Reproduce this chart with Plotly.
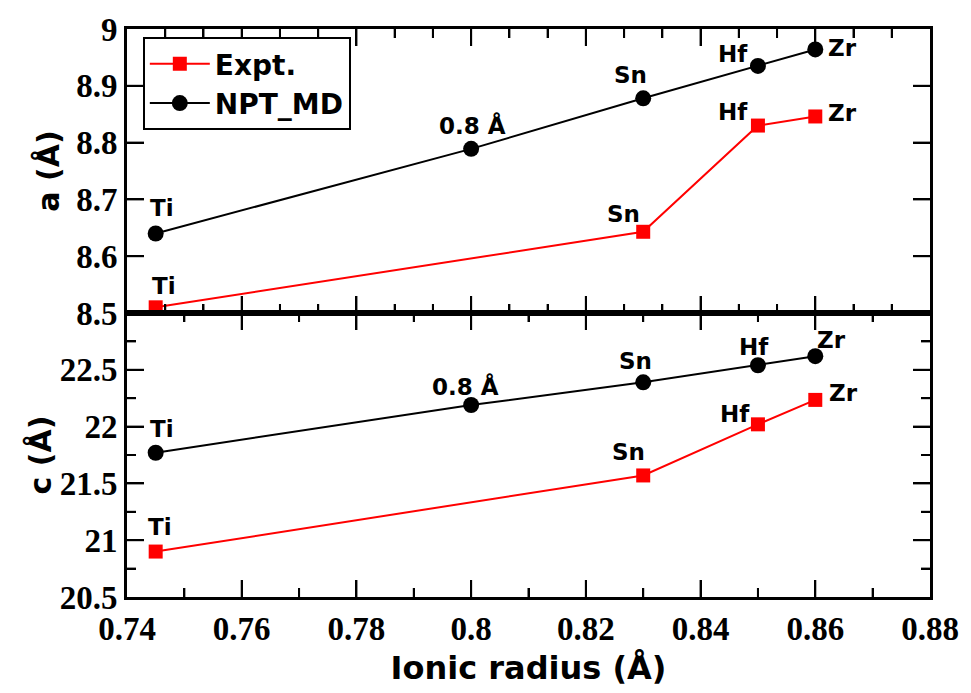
import numpy as np
import plotly.graph_objects as go
from plotly.subplots import make_subplots

# ---- data ----
radius = [0.745, 0.80, 0.83, 0.85, 0.86]
md_labels = ["Ti", "0.8 Å", "Sn", "Hf", "Zr"]
md_a = [8.640, 8.789, 8.878, 8.935, 8.964]
md_c = [21.77, 22.19, 22.39, 22.54, 22.62]

expt_radius = [0.745, 0.83, 0.85, 0.86]
expt_labels = ["Ti", "Sn", "Hf", "Zr"]
expt_a = [8.510, 8.643, 8.830, 8.846]
expt_c = [20.90, 21.57, 22.02, 22.235]

x_ticks = [0.74, 0.76, 0.78, 0.80, 0.82, 0.84, 0.86, 0.88]
a_ticks = [8.5, 8.6, 8.7, 8.8, 8.9, 9.0]
c_ticks = [20.5, 21.0, 21.5, 22.0, 22.5]

# minor tick positions (axis decoration)
x_minor_top = [v for i, v in enumerate(np.linspace(0.74, 0.88, 22)) if i % 3]
x_minor_bot = list(np.arange(0.75, 0.88, 0.02))
c_minor = list(np.arange(20.75, 23.0, 0.5))

# label placement (pixel offsets), styling only
md_a_off = [(6, 25), (1, 23), (-13, 23), (-25, 12), (27, 1)]
ex_a_off = [(8, 21), (-20, 18), (-25, 14), (27, 3)]
md_c_off = [(6, 24), (-6, 19), (-8, 21), (-4, 18), (16, 16)]
ex_c_off = [(4, 25), (-15, 23), (-23, 10), (28, 7)]

RED = "#ff0000"
BLK = "#000000"
TICKFONT = dict(family="Liberation Serif, Times New Roman, serif", size=33, color="black")
LBLFONT = dict(family="DejaVu Sans", size=23, color="black")
TITLEFONT = dict(family="DejaVu Sans", size=30, color="black")
MAJ, MIN = 17, 9

fig = make_subplots(rows=2, cols=1, shared_xaxes=True, vertical_spacing=0)

fig.add_trace(go.Scatter(x=expt_radius, y=expt_a, mode="lines+markers", name="<b>Expt.</b>",
                         line=dict(color=RED, width=2),
                         marker=dict(symbol="square", size=14, color=RED)), row=1, col=1)
fig.add_trace(go.Scatter(x=radius, y=md_a, mode="lines+markers", name="<b>NPT_MD</b>",
                         line=dict(color=BLK, width=2),
                         marker=dict(symbol="circle", size=16, color=BLK)), row=1, col=1)
fig.add_trace(go.Scatter(x=expt_radius, y=expt_c, mode="lines+markers", name="Expt.",
                         showlegend=False,
                         line=dict(color=RED, width=2),
                         marker=dict(symbol="square", size=14, color=RED)), row=2, col=1)
fig.add_trace(go.Scatter(x=radius, y=md_c, mode="lines+markers", name="NPT_MD",
                         showlegend=False,
                         line=dict(color=BLK, width=2),
                         marker=dict(symbol="circle", size=16, color=BLK)), row=2, col=1)

def add_labels(xs, ys, texts, offs, xref, yref):
    for x, y, t, (dx, dy) in zip(xs, ys, texts, offs):
        fig.add_annotation(x=x, y=y, text="<b>%s</b>" % t, xref=xref, yref=yref,
                           showarrow=False, xshift=dx, yshift=dy, font=LBLFONT)

add_labels(radius, md_a, md_labels, md_a_off, "x", "y")
add_labels(expt_radius, expt_a, expt_labels, ex_a_off, "x", "y")
add_labels(radius, md_c, md_labels, md_c_off, "x2", "y2")
add_labels(expt_radius, expt_c, expt_labels, ex_c_off, "x2", "y2")

axis_common = dict(showline=True, linecolor="black", linewidth=3, mirror="ticks",
                   ticks="inside", ticklen=MAJ, tickwidth=2, tickcolor="black",
                   showgrid=False, zeroline=False, tickfont=TICKFONT)
minor_common = dict(ticks="inside", ticklen=MIN, tickwidth=2, tickcolor="black",
                    showgrid=False)

def bold(vals):
    return ["<b>%g</b>" % v for v in vals]

fig.update_xaxes(range=[0.74, 0.88], tickmode="array", tickvals=x_ticks,
                 ticktext=bold(x_ticks), **axis_common)
fig.update_xaxes(showticklabels=False,
                 minor=dict(dtick=0.02 / 3, tick0=0.74, **minor_common),
                 row=1, col=1)
fig.update_xaxes(minor=dict(dtick=0.01, tick0=0.74, **minor_common),
                 title=dict(text="<b>Ionic radius (Å)</b>", standoff=12,
                            font=dict(family="DejaVu Sans", size=32, color="black")),
                 row=2, col=1)

fig.update_yaxes(**axis_common)
fig.update_yaxes(range=[8.5, 9.0], tickmode="array", tickvals=a_ticks,
                 ticktext=bold(a_ticks),
                 title=dict(text="<b>a (Å)</b>", standoff=8, font=TITLEFONT),
                 row=1, col=1)
fig.update_yaxes(range=[20.5, 23.0], tickmode="array", tickvals=c_ticks,
                 ticktext=bold(c_ticks),
                 minor=dict(dtick=0.25, tick0=20.5, **minor_common),
                 title=dict(text="<b>c (Å)</b>", standoff=0, font=TITLEFONT),
                 row=2, col=1)

# inside tick marks drawn through the axes' own scales (backup for minor ticks)
TL = dict(color="black", width=2)

def x_ticks_on(xref, yref, vals, length):
    for v in vals:
        for anchor, sign in ((0, 1), (1, -1)):
            fig.add_shape(type="line", xref=xref, yref=yref + " domain",
                          x0=v, x1=v, ysizemode="pixel", yanchor=anchor,
                          y0=0, y1=sign * length, line=TL, layer="above")

def y_ticks_on(xref, yref, vals, length):
    for v in vals:
        for anchor, sign in ((0, 1), (1, -1)):
            fig.add_shape(type="line", xref=xref + " domain", yref=yref,
                          y0=v, y1=v, xsizemode="pixel", xanchor=anchor,
                          x0=0, x1=sign * length, line=TL, layer="above")

x_ticks_on("x", "y", x_ticks[1:-1], MAJ)
x_ticks_on("x", "y", x_minor_top, MIN)
x_ticks_on("x2", "y2", x_ticks[1:-1], MAJ)
x_ticks_on("x2", "y2", x_minor_bot, MIN)
y_ticks_on("x", "y", a_ticks[1:-1], MAJ)
y_ticks_on("x2", "y2", c_ticks[1:], MAJ)
y_ticks_on("x2", "y2", c_minor, MIN)

fig.update_layout(
    width=971, height=693,
    margin=dict(l=127, r=33, t=25, b=95),
    plot_bgcolor="white", paper_bgcolor="white",
    legend=dict(x=0.0197, y=0.986, xanchor="left", yanchor="top",
                bordercolor="black", borderwidth=2, bgcolor="white",
                font=dict(family="DejaVu Sans", size=28, color="black"),
                itemwidth=60, tracegroupgap=0),
    showlegend=True,
)

fig.write_html("out.html")
